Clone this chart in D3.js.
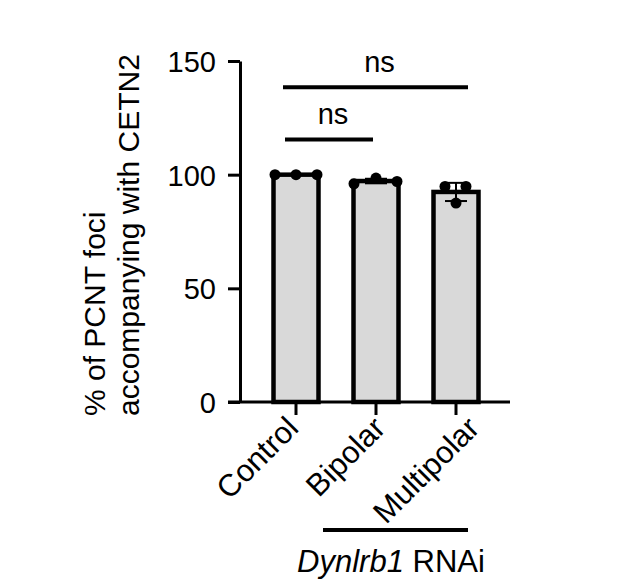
<!DOCTYPE html>
<html>
<head>
<meta charset="utf-8">
<script src="https://cdn.jsdelivr.net/npm/d3@7"></script>
<style>
  body { margin: 0; background: #fff; }
  svg text { font-family: "Liberation Sans", Arial, Helvetica, sans-serif; fill: #000; }
</style>
</head>
<body>
<div class="canvas"></div>
<script>
// data
const categories = ["Control", "Bipolar", "Multipolar"];
const means = [100, 97.2, 92.4];
const sds = [0, 1.0, 4.0];
const replicates = [
  [100, 100, 100],
  [96, 98.5, 97],
  [94.8, 94.8, 87.5],
];
const yTicks = [0, 50, 100, 150];
const comparisons = [
  { from: "Control", to: "Bipolar", level: 115.5, label: "ns" },
  { from: "Control", to: "Multipolar", level: 138.5, label: "ns" },
];
const groupName = "Dynlrb1";
const groupSuffix = " RNAi";

// styling / layout
const width = 636;
const height = 588;
const dotJitter = [[-21, 0, 21], [-22, 0, 21], [-11, 10, 0]];
const bracketEnds = [[-11, -3], [-13, 12]];
const labelShift = [4, 11, 25];

const svg = d3
  .select(".canvas")
  .append("svg")
  .attr("width", width)
  .attr("height", height);

// scales
const y = d3.scaleLinear().domain([0, 150]).range([402, 61]);
const x = d3.scaleBand().domain(categories).range([256, 496]).padding(0);
const cx = (c) => x(c) + x.bandwidth() / 2;
const barW = 45;

// y axis
const yAxisGroup = svg.append("g").attr("transform", "translate(240, 0)");
yAxisGroup.call(
  d3.axisLeft(y).tickValues(yTicks).tickSize(12).tickSizeOuter(0).tickPadding(12)
);
yAxisGroup.selectAll("path, line").attr("stroke", "#000").attr("stroke-width", 3);
yAxisGroup
  .selectAll("text")
  .style("font-size", "29px")
  .attr("dy", "0.36em");

// x axis
const xAxisGroup = svg.append("g").attr("transform", `translate(0, ${y(0)})`);
xAxisGroup.call(d3.axisBottom(x).tickSize(13).tickSizeOuter(0));
xAxisGroup.select(".domain").remove();
xAxisGroup.selectAll("line").attr("stroke", "#000").attr("stroke-width", 3);
xAxisGroup
  .selectAll("text")
  .style("font-size", "31px")
  .attr("text-anchor", "end")
  .attr("y", 0)
  .attr("dy", 0)
  .attr("transform", (d, i) => `translate(${labelShift[i]}, 28) rotate(-45)`);

// bars
svg
  .selectAll("rect.bar")
  .data(categories)
  .enter()
  .append("rect")
  .attr("class", "bar")
  .attr("x", (d) => cx(d) - barW / 2)
  .attr("width", barW)
  .attr("y", (d, i) => y(means[i]))
  .attr("height", (d, i) => y(0) - y(means[i]))
  .attr("fill", "#d9d9d9")
  .attr("stroke", "#000")
  .attr("stroke-width", 4.5);

// x axis baseline (runs under the 0 tick)
svg
  .append("line")
  .attr("x1", 228)
  .attr("x2", 510)
  .attr("y1", y(0))
  .attr("y2", y(0))
  .attr("stroke", "#000")
  .attr("stroke-width", 3);

// error bars (mean ± SD)
const err = svg.append("g");
categories.forEach((c, i) => {
  if (!sds[i]) return;
  const lo = y(means[i] - sds[i]);
  const hi = y(means[i] + sds[i]);
  err.append("line")
    .attr("x1", cx(c)).attr("x2", cx(c))
    .attr("y1", lo).attr("y2", hi)
    .attr("stroke", "#000").attr("stroke-width", 2);
  [lo, hi].forEach((v) => {
    err.append("line")
      .attr("x1", cx(c) - 11).attr("x2", cx(c) + 11)
      .attr("y1", v).attr("y2", v)
      .attr("stroke", "#000").attr("stroke-width", 2);
  });
});

// replicate dots
const dots = [];
categories.forEach((c, i) =>
  replicates[i].forEach((v, j) => dots.push({ c, v, dx: dotJitter[i][j] }))
);
svg
  .selectAll("circle")
  .data(dots)
  .enter()
  .append("circle")
  .attr("cx", (d) => cx(d.c) + d.dx)
  .attr("cy", (d) => y(d.v))
  .attr("r", 5.5)
  .attr("fill", "#000");

// significance brackets
comparisons.forEach((d, i) => {
  const x1 = cx(d.from) + bracketEnds[i][0];
  const x2 = cx(d.to) + bracketEnds[i][1];
  svg.append("line")
    .attr("x1", x1).attr("x2", x2)
    .attr("y1", y(d.level)).attr("y2", y(d.level))
    .attr("stroke", "#000").attr("stroke-width", 4);
  svg.append("text")
    .attr("x", (x1 + x2) / 2 + 4)
    .attr("y", y(d.level) - 15)
    .attr("text-anchor", "middle")
    .style("font-size", "29px")
    .text(d.label);
});

// y title
const yTitle = svg
  .append("text")
  .attr("transform", "translate(105, 416) rotate(-90)")
  .style("font-size", "30px");
yTitle.append("tspan").attr("x", 0).attr("dy", 0).text("% of PCNT foci");
yTitle.append("tspan").attr("x", 0).attr("dy", 34).text("accompanying with CETN2");

// group bracket under the RNAi conditions
svg
  .append("line")
  .attr("x1", cx("Bipolar") - 53)
  .attr("x2", cx("Multipolar") + 12)
  .attr("y1", 530)
  .attr("y2", 530)
  .attr("stroke", "#000")
  .attr("stroke-width", 4);

const groupText = svg
  .append("text")
  .attr("x", 391)
  .attr("y", 572)
  .attr("text-anchor", "middle")
  .style("font-size", "31px");
groupText.append("tspan").style("font-style", "italic").text(groupName);
groupText.append("tspan").text(groupSuffix);
</script>
</body>
</html>
